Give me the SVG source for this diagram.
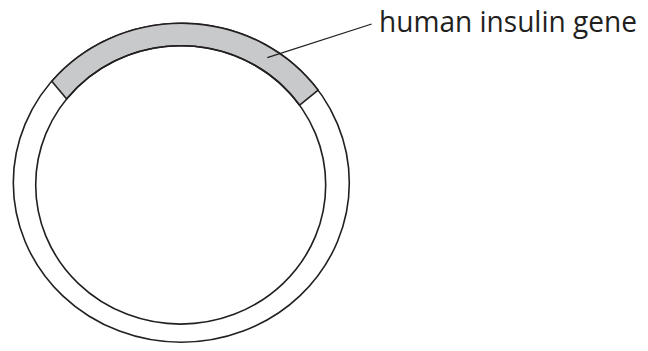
<svg xmlns="http://www.w3.org/2000/svg" width="648" height="351" viewBox="0 0 648 351">
<style>
.ln{fill:none;stroke:#231f20;stroke-width:1.6}
.gene{fill:#c8c9cb;stroke:#231f20;stroke-width:1.6;stroke-linejoin:miter}
.lbl{font-family:"Open Sans","Liberation Sans",sans-serif;font-size:29px;fill:#231f20}
</style>
<rect width="648" height="351" fill="#ffffff"/>
<g id="plasmid">
<ellipse cx="181.3" cy="182.8" rx="168" ry="159.5" fill="#ffffff" stroke="#231f20" stroke-width="1.6"/>
<path class="gene" d="M51.8 81.2 A168 159.5 0 0 1 318.1 90.1 L299.7 105.2 A145 139.2 0 0 0 66.7 99 Z"/>
<ellipse class="ln" cx="180.7" cy="184.9" rx="145" ry="139.2"/>
</g>
<g id="connectors">
<line x1="267.3" y1="57.7" x2="371.7" y2="24" stroke="#231f20" stroke-width="1.3"/>
</g>
<g id="label">
<text class="lbl" x="379" y="31.5" textLength="258" lengthAdjust="spacingAndGlyphs">human insulin gene</text>
</g>
</svg>
